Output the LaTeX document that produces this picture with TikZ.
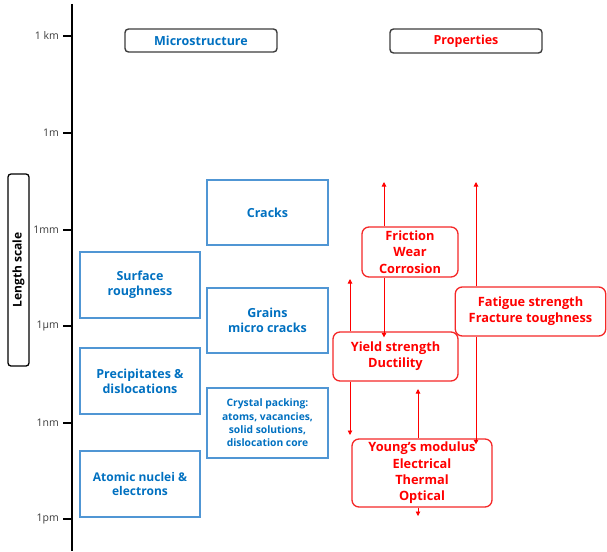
\documentclass[tikz,border=0pt]{standalone}
\usepackage{fontspec}
\setmainfont{Open Sans}
\usetikzlibrary{arrows.meta}
\definecolor{mblue}{RGB}{0,112,192}
\definecolor{bblue}{RGB}{80,150,212}
\definecolor{mred}{RGB}{255,0,0}
\definecolor{bred}{RGB}{245,40,40}
\definecolor{tgray}{RGB}{60,60,60}
\definecolor{hgray}{RGB}{60,60,60}
\begin{document}
\begin{tikzpicture}[x=1pt,y=-1pt,
  bluebox/.style={draw=bblue, line width=1.3pt, align=center, text=mblue,
    font=\bfseries\fontsize{12.5}{15.3}\selectfont, inner sep=0pt},
  redbox/.style={draw=bred, line width=1.3pt, rounded corners=7pt, fill=white,
    align=center, text=mred, font=\bfseries\fontsize{12.8}{16.3}\selectfont, inner sep=0pt},
  headbox/.style={draw=hgray, line width=1.4pt, rounded corners=3.5pt, inner sep=0pt,
    font=\bfseries\fontsize{12.5}{14}\selectfont},
  ticklabel/.style={anchor=east, text=tgray, font=\fontsize{10.5}{12}\selectfont, inner sep=0pt},
  redarrow/.style={draw=mred, line width=0.9pt, -{Triangle[width=4.5pt,length=4.5pt]}},
  tickline/.style={line width=1.8pt, black}
]
\useasboundingbox (0,0) rectangle (607,551);

% axis
\coordinate (axtop) at (72,4);
\coordinate (axbot) at (72,551);
\draw[line width=1.8pt] (axtop) -- (axbot);
\foreach \y/\lab/\nm in {36/1 km/km, 133/1m/m, 230/1mm/mm, 326/1μm/um, 423/1nm/nm, 519/1pm/pm}{
  \coordinate (t\nm) at (63,\y);
  \draw[tickline] (t\nm) -- (t\nm -| axtop);
  \node[ticklabel] (l\nm) at (59,\y) {\lab};
}

% length scale label
\node[draw=black, line width=1.3pt, rounded corners=3pt, rotate=90,
  minimum width=192pt, minimum height=21pt, inner sep=0pt,
  font=\bfseries\fontsize{12}{14}\selectfont] (ls) at (18.5,270) {Length scale};

% headers
\node[headbox, text=mblue, minimum width=152pt, minimum height=23pt] (hmicro) at (201,40.5) {Microstructure};
\node[headbox, text=mred, minimum width=152pt, minimum height=24pt] (hprop) at (466,41) {Properties};

% microstructure boxes
\node[bluebox, minimum width=121pt, minimum height=65pt] (cracks) at (267.5,212.5) {Cracks};
\node[bluebox, minimum width=120pt, minimum height=66pt] (surf) at (140,285) {Surface\\roughness};
\node[bluebox, minimum width=121pt, minimum height=65pt] (grains) at (267.5,320.5) {Grains\\micro cracks};
\node[bluebox, minimum width=120pt, minimum height=66pt] (precip) at (140,381) {Precipitates \&\\dislocations};
\node[bluebox, minimum width=121pt, minimum height=70pt,
  font=\bfseries\fontsize{10.3}{13.3}\selectfont] (crystal) at (267.5,423) {Crystal packing:\\atoms, vacancies,\\solid solutions,\\dislocation core};
\node[bluebox, minimum width=120pt, minimum height=66pt,
  font=\bfseries\fontsize{12}{14.3}\selectfont] (atomic) at (140,484) {Atomic nuclei \&\\electrons};

% coordinates for arrow ends
\coordinate (fup) at (384,182);
\coordinate (gup) at (476,182);
\coordinate (yup) at (350,279);
\coordinate (ydn) at (350,435);
\coordinate (ymid) at (418,389);
\coordinate (ybot) at (418,516);

% properties boxes
\node[redbox, minimum width=96pt, minimum height=50pt] (fric) at (410,252) {Friction\\Wear\\Corrosion};
\node[redbox, minimum width=125pt, minimum height=49pt] (yield) at (395.5,356.5) {Yield strength\\Ductility};
\node[redbox, minimum width=150.5pt, minimum height=49pt] (fat) at (530.5,311.5) {Fatigue strength\\Fracture toughness};
\node[redbox, minimum width=140pt, minimum height=68pt] (young) at (422,473) {Young’s modulus\\Electrical\\Thermal\\Optical};

% arrows
\draw[redarrow] (fric.north -| fup) -- (fup);
\draw[redarrow] (fric.south -| fup) -- ([yshift=-6pt]yield.north -| fup);
\draw[redarrow] (fat.north -| gup) -- (gup);
\draw[redarrow] (fat.south -| gup) -- ([yshift=-6pt]young.north -| gup);
\draw[redarrow] (yield.north -| yup) -- (yup);
\draw[redarrow] (yield.south -| ydn) -- (ydn);
\draw[redarrow] (young.north -| ymid) -- (ymid);
\draw[redarrow] (young.south -| ybot) -- (ybot);
\end{tikzpicture}
\end{document}
